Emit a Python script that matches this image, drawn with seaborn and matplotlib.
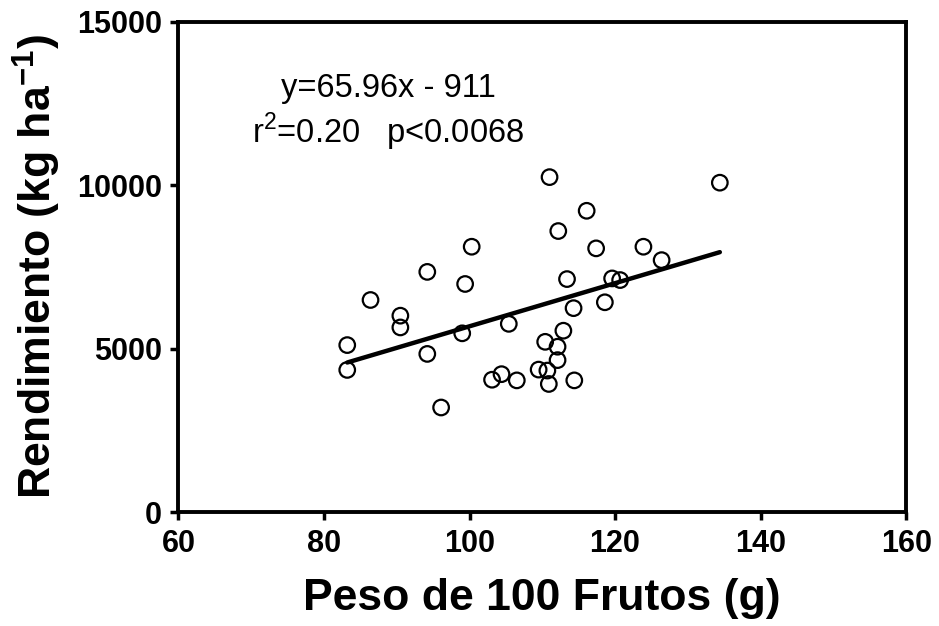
import matplotlib
matplotlib.use("Agg")
import matplotlib.pyplot as plt
import numpy as np
import seaborn as sns

# peso de 100 frutos (g) vs rendimiento (kg/ha)
peso = [100.3, 94.2, 99.4, 86.4, 90.5, 90.5, 83.2, 83.2, 94.2, 99.0,
        105.4, 96.1, 103.1, 104.4, 106.5, 109.5, 111.0, 134.4, 116.1, 112.2,
        117.4, 123.9, 126.4, 113.4, 119.6, 120.7, 118.6, 114.3, 112.9, 110.4,
        112.1, 112.1, 110.7, 110.9, 114.4]
rendimiento = [8120, 7350, 6980, 6490, 6010, 5650, 5110, 4350, 4840, 5470,
               5760, 3200, 4050, 4220, 4030, 4360, 10250, 10080, 9220, 8600,
               8070, 8120, 7710, 7130, 7150, 7100, 6420, 6240, 5550, 5210,
               5060, 4650, 4330, 3920, 4030]

# regression reported in the figure
slope = 65.96
intercept = -911
eq_text = "y=65.96x - 911"
stats_text = "r$^2$=0.20   p<0.0068"

x_ticks = [60, 80, 100, 120, 140, 160]
y_ticks = [0, 5000, 10000, 15000]

sns.set_style("ticks")
plt.rcParams['font.family'] = ['Liberation Sans', 'DejaVu Sans']
plt.rcParams['text.color'] = 'black'
plt.rcParams['axes.labelcolor'] = 'black'
plt.rcParams['mathtext.fontset'] = 'custom'
plt.rcParams['mathtext.rm'] = 'Liberation Sans'
plt.rcParams['mathtext.bf'] = 'Liberation Sans:bold'

fig, ax = plt.subplots(figsize=(9.39, 6.26), dpi=100)
fig.subplots_adjust(left=0.19, right=0.965, bottom=0.182, top=0.965)

sns.scatterplot(x=peso, y=rendimiento, ax=ax, s=125, marker='o',
                facecolor='none', edgecolor='black', linewidth=1.6, zorder=3)

line_x = np.array([min(peso), max(peso)])
sns.lineplot(x=line_x, y=slope * line_x + intercept, ax=ax,
             color='black', linewidth=3.2, zorder=2)

ax.text(88.8, 12700, eq_text, ha='center', va='baseline', fontsize=23.5, color='black')
ax.text(88.8, 11290, stats_text, ha='center', va='baseline', fontsize=23.5, color='black')

ax.set_xlim(60, 160)
ax.set_ylim(0, 15000)
ax.set_xticks(x_ticks)
ax.set_yticks(y_ticks)
for lab in ax.get_xticklabels() + ax.get_yticklabels():
    lab.set_fontweight('bold')
ax.tick_params(axis='both', labelsize=22, width=2.5, length=6, color='black',
               labelcolor='black', pad=6)

for sp in ax.spines.values():
    sp.set_linewidth(2.8)
    sp.set_color('black')

ax.set_xlabel("Peso de 100 Frutos (g)", fontsize=32, fontweight='bold', labelpad=14,
              color='black')
ax.set_ylabel(r"Rendimiento (kg ha$^{\mathbf{-1}}$)", fontsize=32, fontweight='bold',
              labelpad=10, color='black')

fig.savefig("out.png", dpi=100)
